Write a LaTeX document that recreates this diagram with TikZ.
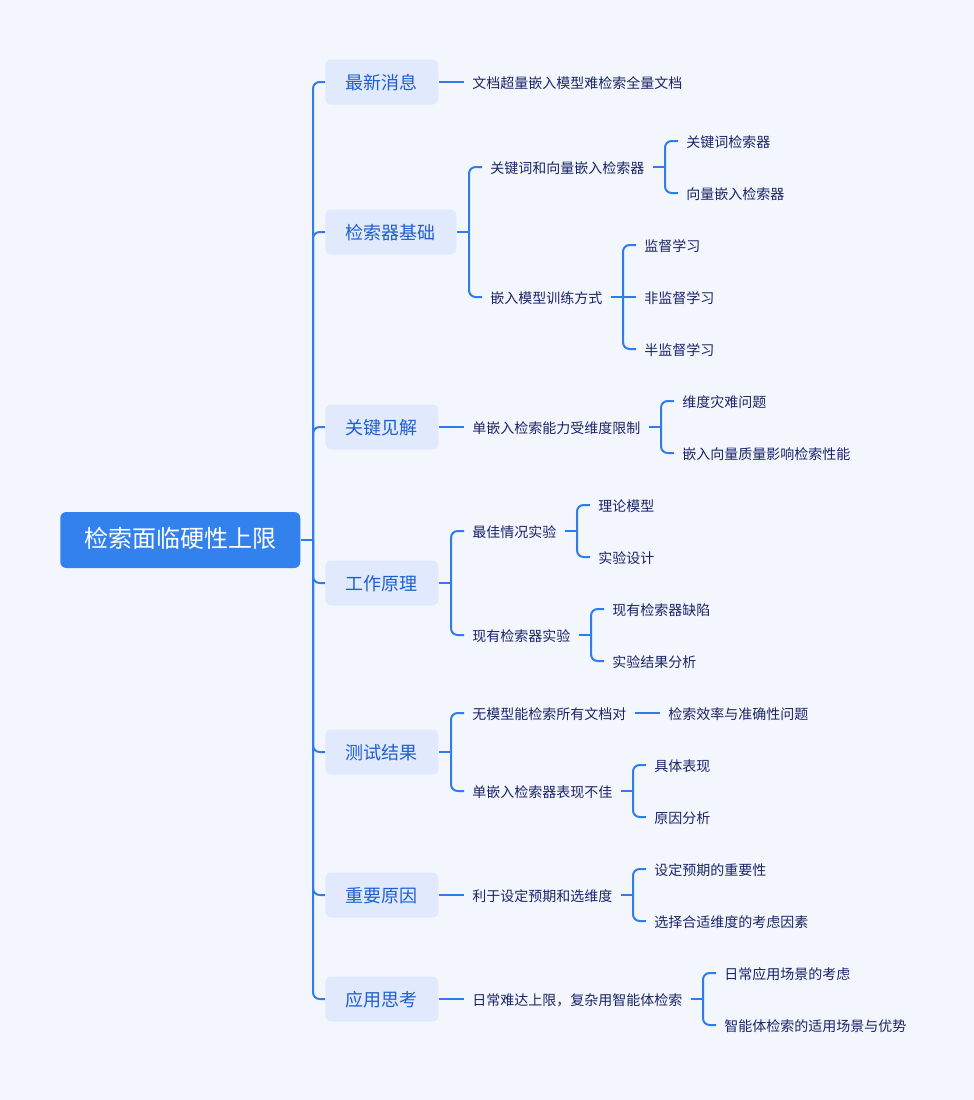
\documentclass[tikz,border=0pt]{standalone}
\usepackage{fontspec}
\setmainfont{Noto Sans CJK SC}
\definecolor{bgc}{HTML}{F4F6FE}
\definecolor{rootc}{HTML}{3381EC}
\definecolor{boxc}{HTML}{E1E9FD}
\definecolor{lonec}{HTML}{1F5FCC}
\definecolor{leafc}{HTML}{1A2466}
\definecolor{linec}{HTML}{2F7DEA}
\tikzset{
  rootbox/.style={fill=rootc, text=white, rounded corners=4.5pt, minimum width=180pt,
    minimum height=42pt, inner xsep=0pt, inner ysep=0pt, text height=1.14em, text depth=0em,
    font=\fontsize{18pt}{20pt}\selectfont, anchor=west},
  lonebox/.style={fill=boxc, text=lonec, rounded corners=4.5pt, minimum height=33.75pt,
    inner xsep=15.4pt, inner ysep=0pt, text height=1.08em, text depth=0em,
    font=\fontsize{13.5pt}{15pt}\selectfont, anchor=west},
  leaf/.style={text=leafc, inner xsep=6pt, inner ysep=0pt, text height=1em, text depth=0em,
    font=\fontsize{10.5pt}{12pt}\selectfont, anchor=west},
  conn/.style={draw=linec, line width=1.5pt},
  bconn/.style={draw=linec, line width=1.5pt, rounded corners=5pt},
}
\begin{document}
\begin{tikzpicture}[x=0.75pt,y=-0.75pt]
\fill[bgc] (0,0) rectangle (974,1100);
\useasboundingbox (0,0) rectangle (974,1100);

% root
\node[rootbox] (root) at (60,540) {检索面临硬性上限};
\coordinate (t0) at (313,540);

% level 1
\node[lonebox] (a) at (325,82) {最新消息};
\node[lonebox] (b) at (325,232) {检索器基础};
\node[lonebox] (c) at (325,427) {关键见解};
\node[lonebox] (d) at (325,583) {工作原理};
\node[lonebox] (e) at (325,752) {测试结果};
\node[lonebox] (f) at (325,895) {重要原因};
\node[lonebox] (g) at (325,999) {应用思考};

% level 2
\node[leaf] (a1) at (464,82) {文档超量嵌入模型难检索全量文档};
\node[leaf] (b1) at (482,167) {关键词和向量嵌入检索器};
\node[leaf] (b2) at (482,297) {嵌入模型训练方式};
\node[leaf] (c1) at (464,427) {单嵌入检索能力受维度限制};
\node[leaf] (d1) at (464,531) {最佳情况实验};
\node[leaf] (d2) at (464,635) {现有检索器实验};
\node[leaf] (e1) at (464,713) {无模型能检索所有文档对};
\node[leaf] (e2) at (464,791) {单嵌入检索器表现不佳};
\node[leaf] (f1) at (464,895) {利于设定预期和选维度};
\node[leaf] (g1) at (464,999) {日常难达上限，复杂用智能体检索};

% level 3
\node[leaf] (b11) at (678,141) {关键词检索器};
\node[leaf] (b12) at (678,193) {向量嵌入检索器};
\node[leaf] (b21) at (636,245) {监督学习};
\node[leaf] (b22) at (636,297) {非监督学习};
\node[leaf] (b23) at (636,349) {半监督学习};
\node[leaf] (c11) at (674,401) {维度灾难问题};
\node[leaf] (c12) at (674,453) {嵌入向量质量影响检索性能};
\node[leaf] (d11) at (590,505) {理论模型};
\node[leaf] (d12) at (590,557) {实验设计};
\node[leaf] (d21) at (604,609) {现有检索器缺陷};
\node[leaf] (d22) at (604,661) {实验结果分析};
\node[leaf] (e11) at (660,713) {检索效率与准确性问题};
\node[leaf] (e21) at (646,765) {具体表现};
\node[leaf] (e22) at (646,817) {原因分析};
\node[leaf] (f11) at (646,869) {设定预期的重要性};
\node[leaf] (f12) at (646,921) {选择合适维度的考虑因素};
\node[leaf] (g11) at (716,973) {日常应用场景的考虑};
\node[leaf] (g12) at (716,1025) {智能体检索的适用场景与优势};

% bracket points
\coordinate (bb) at (469,232);
\coordinate (bd) at (451,583);
\coordinate (be) at (451,752);
\coordinate (bb1) at (665,167);
\coordinate (bb2) at (623,297);
\coordinate (bc1) at (661,427);
\coordinate (bd1) at (577,531);
\coordinate (bd2) at (591,635);
\coordinate (be2) at (633,791);
\coordinate (bf1) at (633,895);
\coordinate (bg1) at (703,999);

% root trunk
\draw[conn] (root.east) -- (t0);
\foreach \n in {a,b,c,d,e,f,g} { \draw[bconn] (t0) |- (\n.west); }

% level1 -> level2
\draw[conn] (a.east) -- (a1.west);
\draw[conn] (b.east) -- (bb);
\draw[bconn] (bb) |- (b1.west);
\draw[bconn] (bb) |- (b2.west);
\draw[conn] (c.east) -- (c1.west);
\draw[conn] (d.east) -- (bd);
\draw[bconn] (bd) |- (d1.west);
\draw[bconn] (bd) |- (d2.west);
\draw[conn] (e.east) -- (be);
\draw[bconn] (be) |- (e1.west);
\draw[bconn] (be) |- (e2.west);
\draw[conn] (f.east) -- (f1.west);
\draw[conn] (g.east) -- (g1.west);

% level2 -> level3
\draw[conn] (b1.east) -- (bb1);
\draw[bconn] (bb1) |- (b11.west);
\draw[bconn] (bb1) |- (b12.west);
\draw[conn] (b2.east) -- (bb2);
\draw[bconn] (bb2) |- (b21.west);
\draw[conn] (bb2) -- (b22.west);
\draw[bconn] (bb2) |- (b23.west);
\draw[conn] (c1.east) -- (bc1);
\draw[bconn] (bc1) |- (c11.west);
\draw[bconn] (bc1) |- (c12.west);
\draw[conn] (d1.east) -- (bd1);
\draw[bconn] (bd1) |- (d11.west);
\draw[bconn] (bd1) |- (d12.west);
\draw[conn] (d2.east) -- (bd2);
\draw[bconn] (bd2) |- (d21.west);
\draw[bconn] (bd2) |- (d22.west);
\draw[conn] (e1.east) -- (e11.west);
\draw[conn] (e2.east) -- (be2);
\draw[bconn] (be2) |- (e21.west);
\draw[bconn] (be2) |- (e22.west);
\draw[conn] (f1.east) -- (bf1);
\draw[bconn] (bf1) |- (f11.west);
\draw[bconn] (bf1) |- (f12.west);
\draw[conn] (g1.east) -- (bg1);
\draw[bconn] (bg1) |- (g11.west);
\draw[bconn] (bg1) |- (g12.west);
\end{tikzpicture}
\end{document}
